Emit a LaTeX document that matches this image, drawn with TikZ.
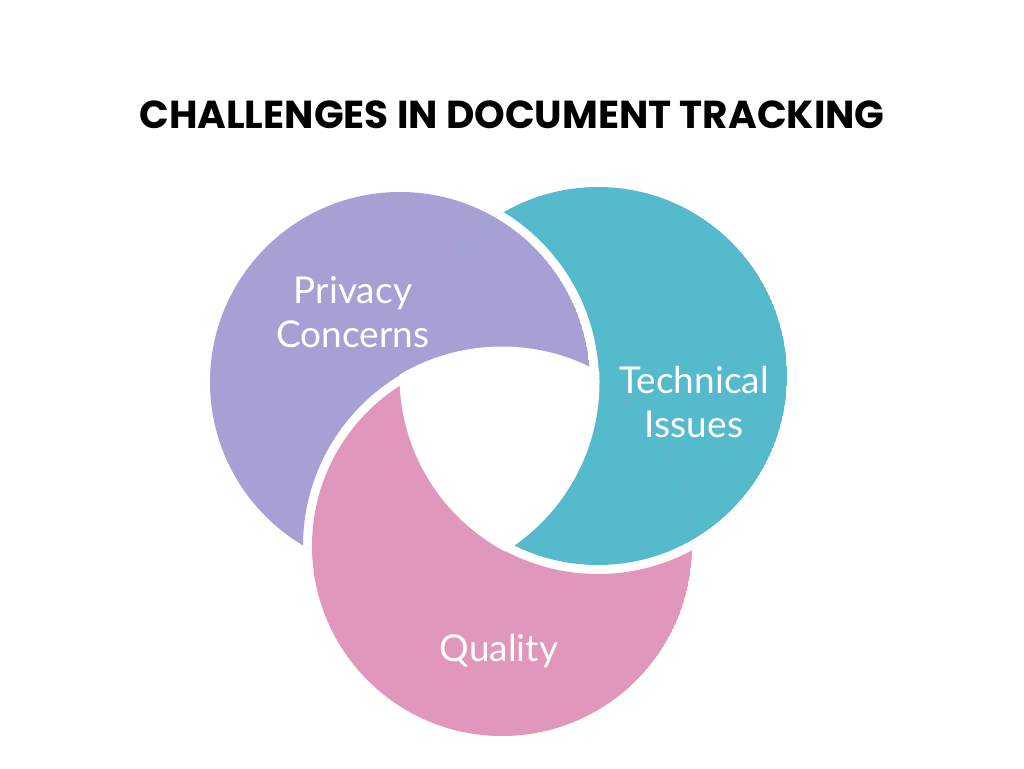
\documentclass[tikz,border=0pt]{standalone}
\usepackage{fontspec}
\setmainfont{Lato}
\newfontfamily\titlefont{Poppins}[UprightFont=* Bold]
\definecolor{cpurple}{HTML}{A7A0D4}
\definecolor{cteal}{HTML}{55BACB}
\definecolor{cpink}{HTML}{E197BC}
\begin{document}
\begin{tikzpicture}[x=1pt,y=-1pt,
  lbl/.style={text=white,font=\fontsize{37}{44}\selectfont,align=center}]
\useasboundingbox (0,0) rectangle (1024,768);
\def\gap{9}
\begin{scope}
\clip (400,382) circle (190);
\fill[cpurple,even odd rule] (400,382) circle (190) (502,546) circle (190+\gap);
\end{scope}
\begin{scope}
\clip (598,376) circle (189);
\fill[cteal,even odd rule] (598,376) circle (189) (400,382) circle (190+\gap);
\end{scope}
\begin{scope}
\clip (502,546) circle (190);
\fill[cpink,even odd rule] (502,546) circle (190) (598,376) circle (189+\gap);
\end{scope}
% clean the central hole
\begin{scope}
\clip (400,382) circle (190+\gap+0.5);
\clip (598,376) circle (189+\gap+0.5);
\fill[white] (502,546) circle (190+\gap+0.5);
\end{scope}
\node[font=\titlefont\fontsize{39}{46}\selectfont] (title) at (512,115) {CHALLENGES IN DOCUMENT TRACKING};
\node[lbl] (privacy) at (353,312) {Privacy\\Concerns};
\node[lbl] (tech) at (694,402) {Technical\\Issues};
\node[lbl] (quality) at (499,651) {Quality};
\end{tikzpicture}
\end{document}
